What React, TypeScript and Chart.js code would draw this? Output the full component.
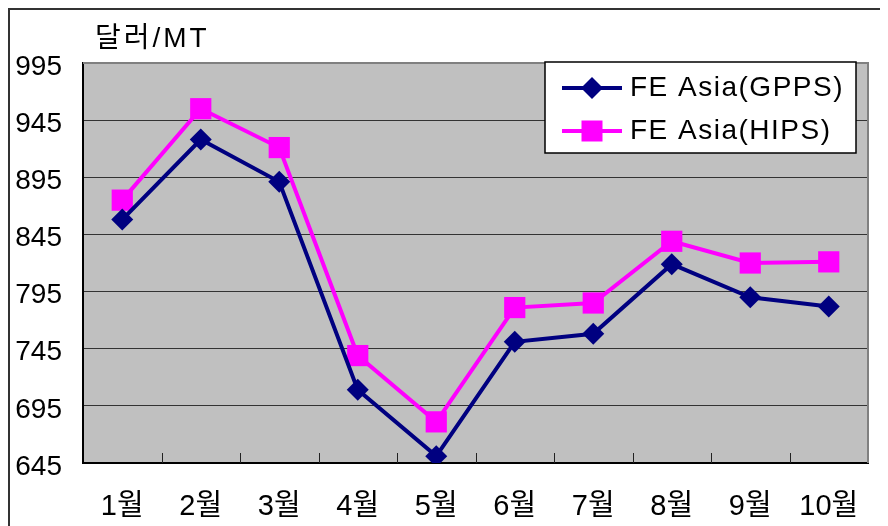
import React, { useEffect, useRef } from "react";
import { Chart, registerables } from "chart.js";

Chart.register(...registerables);

const categories = ["1월", "2월", "3월", "4월", "5월", "6월", "7월", "8월", "9월", "10월"];
const gppsValues = [858, 928, 891, 709, 651, 751, 758, 819, 790, 782];
const hipsValues = [875, 955, 921, 739, 681, 781, 785, 839, 820, 821];
const seriesNames = ["FE Asia(GPPS)", "FE Asia(HIPS)"];
const unitLabel = "달러/MT";
const yMin = 645;
const yMax = 995;
const yStep = 50;

const FONT = '"Liberation Sans", "Noto Sans CJK KR", sans-serif';
const NAVY = "#000080";
const MAGENTA = "#FF00FF";

const decorPlugin = {
  id: "decor",
  beforeDraw(chart: any) {
    const { ctx, chartArea: a } = chart;
    ctx.save();
    ctx.fillStyle = "#ffffff";
    ctx.fillRect(0, 0, chart.width, chart.height);
    ctx.strokeStyle = "#333333";
    ctx.lineWidth = 2;
    ctx.beginPath();
    ctx.moveTo(1, chart.height);
    ctx.lineTo(1, 1);
    ctx.lineTo(chart.width, 1);
    ctx.stroke();
    ctx.fillStyle = "#C0C0C0";
    ctx.fillRect(a.left, a.top, a.right - a.left, a.bottom - a.top);
    ctx.restore();
  },
  beforeDatasetsDraw(chart: any) {
    const { ctx, chartArea: a } = chart;
    const xs = chart.scales.x;
    ctx.save();
    ctx.strokeStyle = "#808080";
    ctx.lineWidth = 2;
    ctx.beginPath();
    ctx.moveTo(a.left, a.top);
    ctx.lineTo(a.right, a.top);
    ctx.lineTo(a.right, a.bottom);
    ctx.stroke();
    const half = (xs.getPixelForValue(1) - xs.getPixelForValue(0)) / 2;
    ctx.strokeStyle = "#222222";
    ctx.lineWidth = 1;
    ctx.beginPath();
    for (let i = 1; i < categories.length; i++) {
      const x = Math.round(xs.getPixelForValue(i) - half) + 0.5;
      ctx.moveTo(x, a.bottom);
      ctx.lineTo(x, a.bottom - 10);
    }
    ctx.stroke();
    ctx.restore();
  },
  afterDraw(chart: any) {
    const { ctx, chartArea: a } = chart;
    ctx.save();
    ctx.fillStyle = "#000000";
    ctx.font = `28px ${FONT}`;
    (ctx as any).letterSpacing = "3px";
    ctx.textAlign = "left";
    ctx.textBaseline = "alphabetic";
    ctx.fillText(unitLabel, a.left + 12, a.top - 16);

    const bw = 311;
    const bh = 91;
    const bx = a.right - 12 - bw;
    const by = a.top - 1;
    ctx.fillStyle = "#ffffff";
    ctx.fillRect(bx, by, bw, bh);
    ctx.strokeStyle = "#000000";
    ctx.lineWidth = 1.5;
    ctx.strokeRect(bx, by, bw, bh);
    const rows = [
      { name: seriesNames[0], color: NAVY, style: "diamond" },
      { name: seriesNames[1], color: MAGENTA, style: "square" },
    ];
    rows.forEach((r, i) => {
      const y = by + 26 + i * 43;
      const lx0 = bx + 17;
      const lx1 = bx + 77;
      const cx = (lx0 + lx1) / 2;
      ctx.strokeStyle = r.color;
      ctx.lineWidth = 4;
      ctx.beginPath();
      ctx.moveTo(lx0, y);
      ctx.lineTo(lx1, y);
      ctx.stroke();
      ctx.fillStyle = r.color;
      ctx.beginPath();
      if (r.style === "diamond") {
        ctx.moveTo(cx - 11, y);
        ctx.lineTo(cx, y - 11);
        ctx.lineTo(cx + 11, y);
        ctx.lineTo(cx, y + 11);
        ctx.closePath();
      } else {
        ctx.rect(cx - 10.5, y - 10.5, 21, 21);
      }
      ctx.fill();
      ctx.fillStyle = "#000000";
      ctx.font = `28px ${FONT}`;
      (ctx as any).letterSpacing = "1.5px";
      ctx.textAlign = "left";
      ctx.textBaseline = "middle";
      ctx.fillText(r.name, bx + 85, y);
    });
    ctx.restore();
  },
};

export default function App() {
  const ref = useRef<HTMLCanvasElement | null>(null);
  useEffect(() => {
    if (!ref.current) return;
    const chart = new Chart(ref.current, {
      type: "line",
      data: {
        labels: categories,
        datasets: [
          {
            label: seriesNames[0],
            data: gppsValues,
            borderColor: NAVY,
            backgroundColor: NAVY,
            borderWidth: 4,
            pointStyle: "rectRot",
            pointRadius: 11,
            pointBorderWidth: 0,
            tension: 0,
          },
          {
            label: seriesNames[1],
            data: hipsValues,
            borderColor: MAGENTA,
            backgroundColor: MAGENTA,
            borderWidth: 4,
            pointStyle: "rect",
            pointRadius: 15,
            pointBorderWidth: 0,
            tension: 0,
          },
        ],
      },
      options: {
        animation: false,
        responsive: false,
        devicePixelRatio: 1,
        layout: { padding: { top: 55, right: 20, left: 0, bottom: 0 } },
        plugins: {
          legend: { display: false },
          title: { display: false },
          tooltip: { enabled: false },
        },
        scales: {
          x: {
            type: "category",
            offset: true,
            grid: { display: false, drawTicks: false },
            border: { display: true, color: "#000000", width: 2 },
            ticks: {
              color: "#000000",
              font: { family: FONT, size: 29 },
              padding: 27,
              maxRotation: 0,
              autoSkip: false,
            },
            afterFit(scale: any) {
              scale.height = 63;
            },
          },
          y: {
            min: yMin,
            max: yMax,
            grid: { color: "#333333", lineWidth: 1, drawTicks: false },
            border: { display: true, color: "#000000", width: 2 },
            ticks: {
              stepSize: yStep,
              color: "#000000",
              font: { family: FONT, size: 28 },
              padding: 21,
              labelOffset: 4,
            },
            afterFit(scale: any) {
              scale.width = 75;
            },
          },
        },
      },
      plugins: [decorPlugin],
    });
    return () => chart.destroy();
  }, []);
  return (
    <div style={{ width: 880, height: 518, position: "relative" }}>
      <canvas ref={ref} width={880} height={518} style={{ display: "block", width: 880, height: 518 }} />
    </div>
  );
}
